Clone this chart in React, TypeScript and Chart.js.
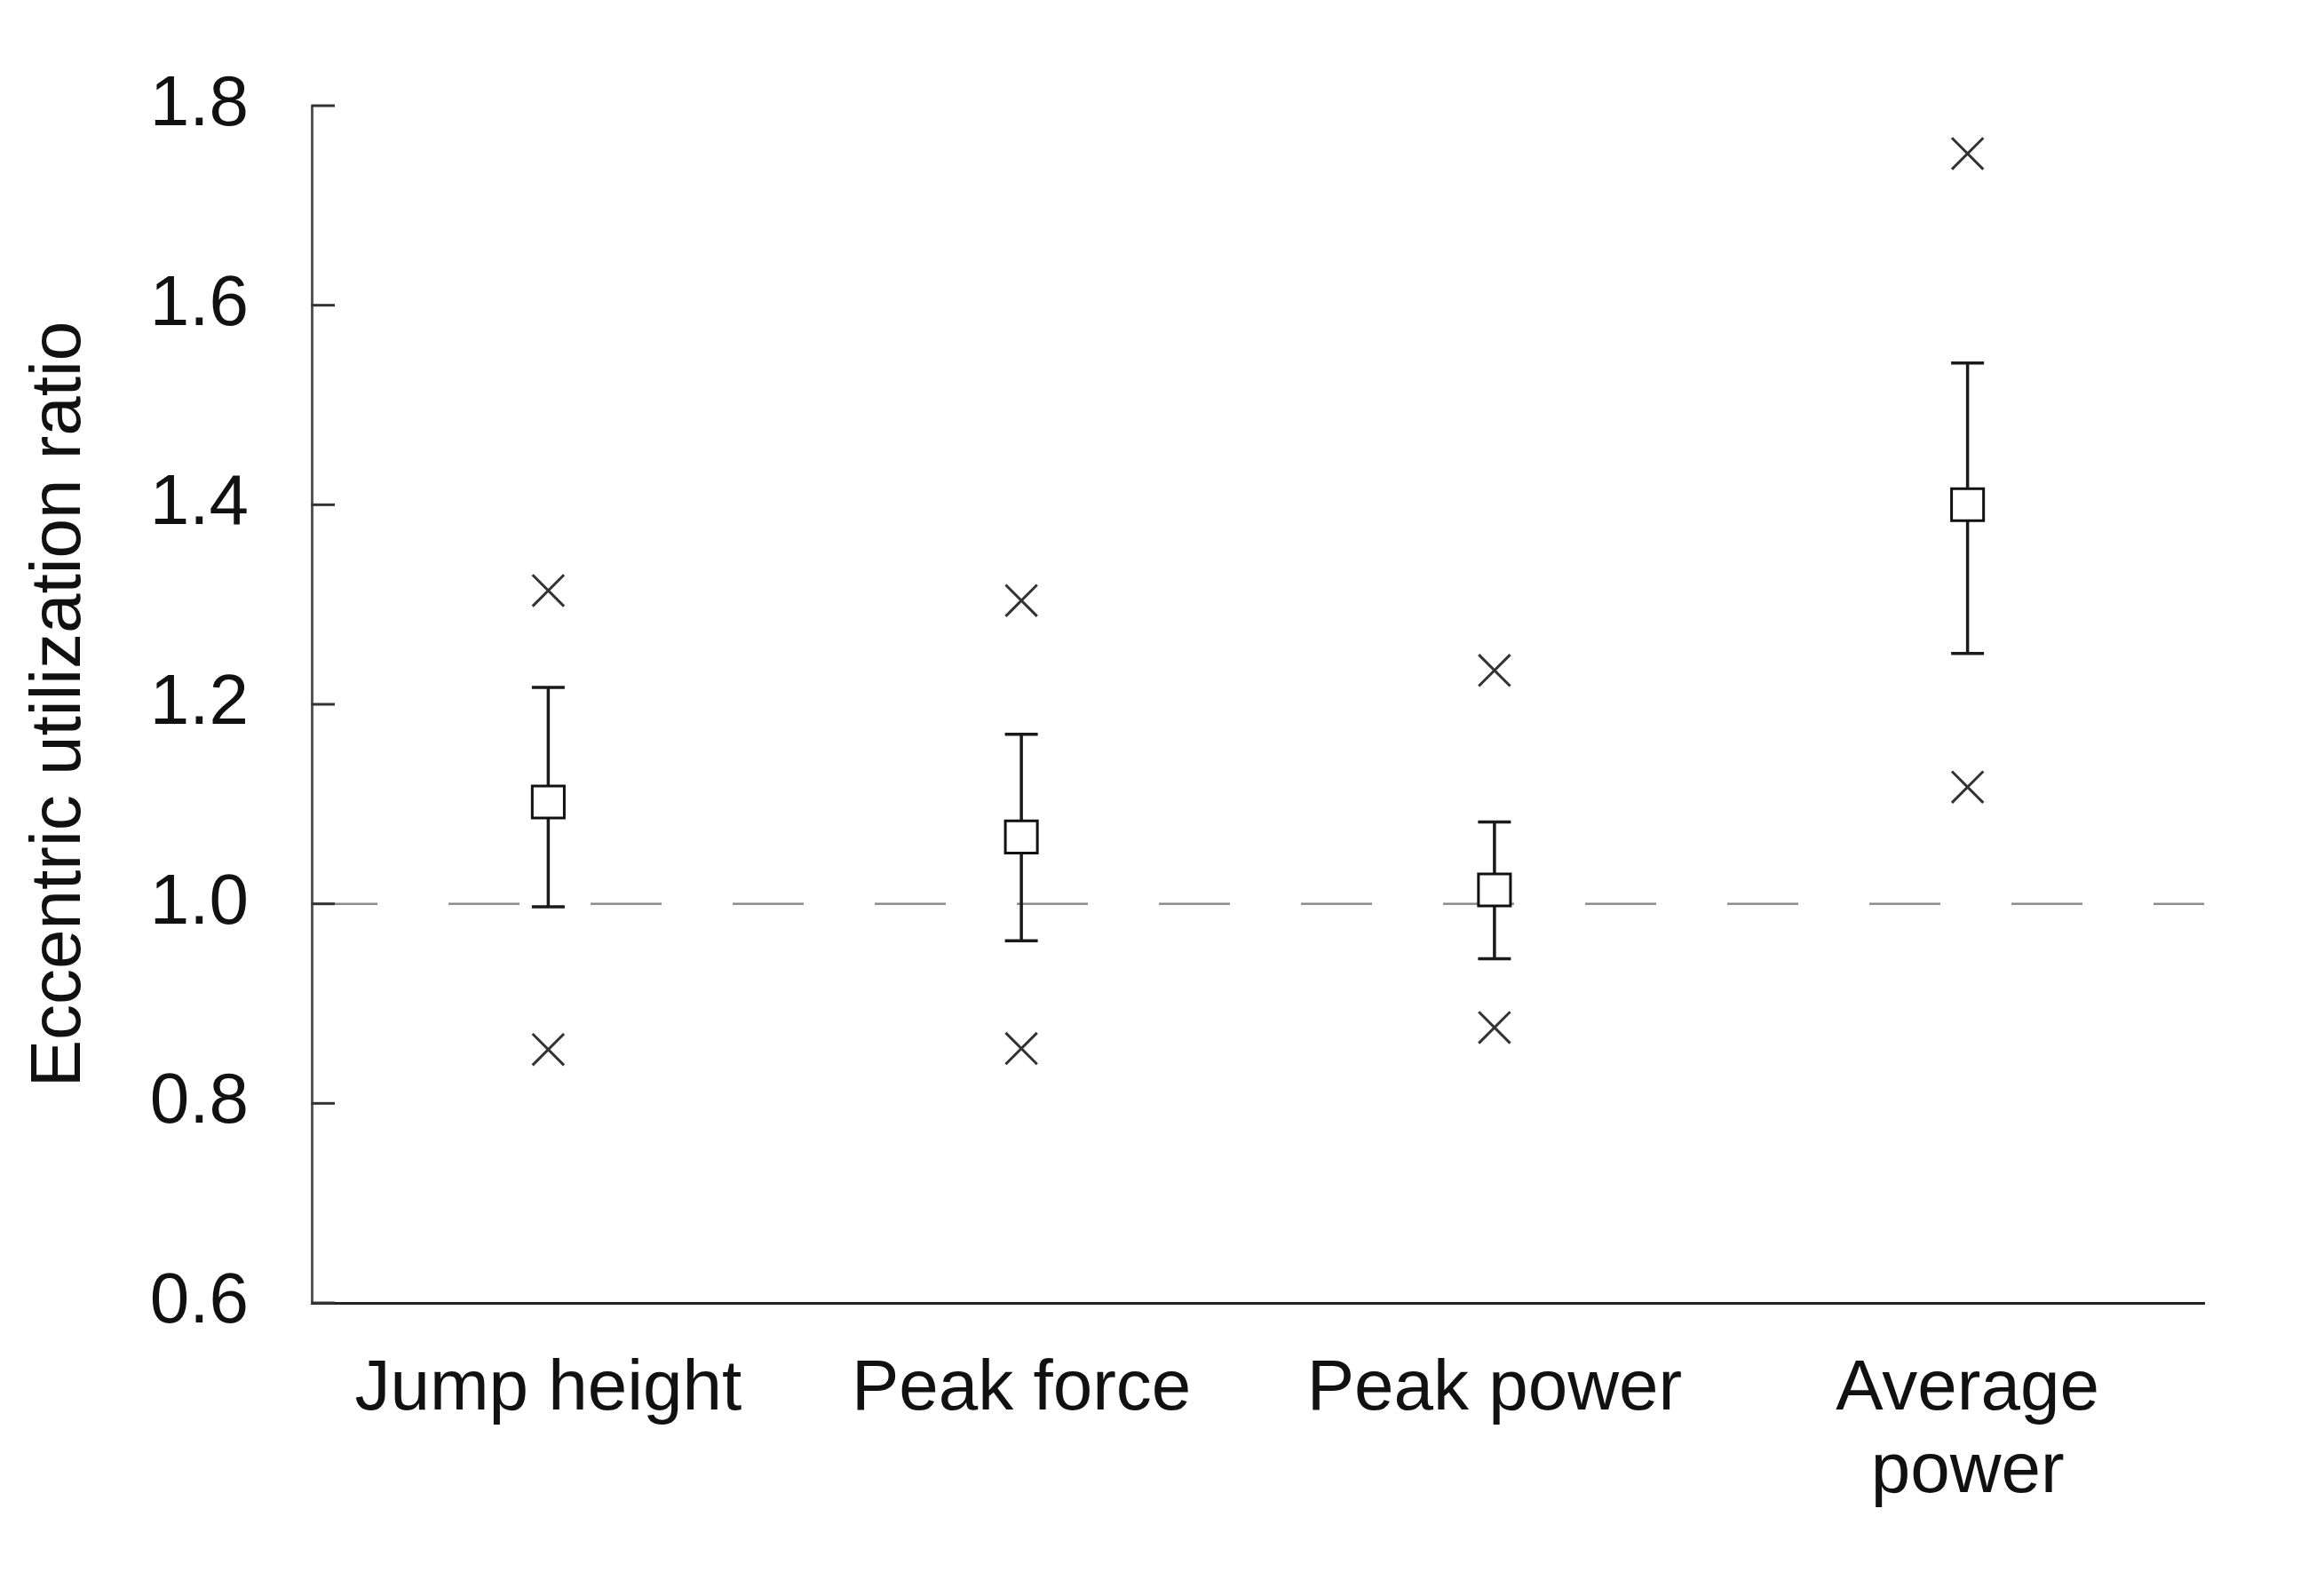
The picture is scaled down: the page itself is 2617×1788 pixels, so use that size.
import { useEffect, useRef } from "react"
import { Chart, registerables } from "chart.js"

Chart.register(...registerables)

// Data
const categories = ["Jump height", "Peak force", "Peak power", ["Average", "power"]]
const meanValues = [1.102, 1.067, 1.014, 1.4]
const upperValues = [1.217, 1.17, 1.082, 1.542]
const lowerValues = [0.997, 0.963, 0.945, 1.251]
const maxValues = [1.314, 1.304, 1.234, 1.752]
const minValues = [0.854, 0.855, 0.876, 1.117]
const yTicks = [0.6, 0.8, 1.0, 1.2, 1.4, 1.6, 1.8]
const referenceValue = 1.0

const FONT = "'Liberation Sans', Arial, sans-serif"

// error bars, reference line and inward y ticks
const extrasPlugin = {
  id: "extras",
  beforeDatasetsDraw(chart: any) {
    const { ctx, chartArea } = chart
    const x = chart.scales.x
    const y = chart.scales.y

    // dashed line at 1.0
    const ry = y.getPixelForValue(referenceValue)
    ctx.save()
    ctx.strokeStyle = "#8c8c8c"
    ctx.lineWidth = 2.5
    ctx.setLineDash([80, 80])
    ctx.lineDashOffset = 6
    ctx.beginPath()
    ctx.moveTo(chartArea.left, ry)
    ctx.lineTo(chartArea.right, ry)
    ctx.stroke()
    ctx.restore()

    // error bars
    ctx.save()
    ctx.strokeStyle = "#1a1a1a"
    ctx.lineWidth = 3.5
    const cap = 18.5
    meanValues.forEach((_, i) => {
      const px = x.getPixelForValue(i)
      const top = y.getPixelForValue(upperValues[i])
      const bot = y.getPixelForValue(lowerValues[i])
      ctx.beginPath()
      ctx.moveTo(px, top)
      ctx.lineTo(px, bot)
      ctx.moveTo(px - cap, top)
      ctx.lineTo(px + cap, top)
      ctx.moveTo(px - cap, bot)
      ctx.lineTo(px + cap, bot)
      ctx.stroke()
    })
    ctx.restore()
  },
  afterDraw(chart: any) {
    const { ctx, chartArea } = chart
    const y = chart.scales.y
    ctx.save()
    ctx.strokeStyle = "#333"
    ctx.lineWidth = 3
    yTicks.forEach((v) => {
      const py = y.getPixelForValue(v)
      ctx.beginPath()
      ctx.moveTo(chartArea.left, py)
      ctx.lineTo(chartArea.left + 26, py)
      ctx.stroke()
    })
    ctx.restore()
  },
}

export default function App() {
  const chartRef = useRef<HTMLCanvasElement>(null)
  const chartInstance = useRef<Chart | null>(null)

  useEffect(() => {
    document.body.style.margin = "0"
    if (!chartRef.current) return
    if (chartInstance.current) chartInstance.current.destroy()

    const ctx = chartRef.current.getContext("2d")
    if (!ctx) return

    const crossStyle = {
      showLine: false,
      pointStyle: "crossRot",
      pointRadius: 25,
      pointBorderColor: "#333",
      pointBorderWidth: 3,
      borderColor: "#333",
    }

    chartInstance.current = new Chart(ctx, {
      type: "line",
      data: {
        labels: categories,
        datasets: [
          {
            label: "Mean",
            data: meanValues,
            showLine: false,
            pointStyle: "rect",
            pointRadius: 25.5,
            pointBackgroundColor: "#fff",
            pointBorderColor: "#111",
            pointBorderWidth: 3,
            borderColor: "#111",
            order: 0,
          },
          { label: "Max", data: maxValues, ...crossStyle, order: 1 },
          { label: "Min", data: minValues, ...crossStyle, order: 1 },
        ] as any,
      },
      options: {
        animation: false,
        responsive: true,
        maintainAspectRatio: false,
        layout: { padding: { top: 118, right: 135, left: 0, bottom: 0 } },
        plugins: {
          legend: { display: false },
          tooltip: { enabled: false },
        },
        scales: {
          x: {
            type: "category",
            offset: true,
            grid: { display: false, drawTicks: false },
            border: { display: true, color: "#222", width: 3 },
            ticks: {
              color: "#111",
              padding: 52,
              maxRotation: 0,
              autoSkip: false,
              font: { family: FONT, size: 80, lineHeight: 1.16 },
            },
            afterFit: (scale: any) => {
              scale.height = 321
            },
          },
          y: {
            type: "linear",
            min: 0.6,
            max: 1.8,
            grid: { display: false, drawTicks: false },
            border: { display: true, color: "#555", width: 3 },
            afterBuildTicks: (scale: any) => {
              scale.ticks = yTicks.map((v) => ({ value: v }))
            },
            ticks: {
              color: "#111",
              padding: 71,
              font: { family: FONT, size: 80 },
              callback: (value: any) => Number(value).toFixed(1),
            },
            title: {
              display: true,
              text: "Eccentric utilization ratio",
              color: "#111",
              padding: { top: 20, bottom: 0 },
              font: { family: FONT, size: 80, lineHeight: 1.2 },
            },
            afterFit: (scale: any) => {
              scale.width = 351
            },
          },
        },
      },
      plugins: [extrasPlugin],
    })

    return () => {
      if (chartInstance.current) {
        chartInstance.current.destroy()
        chartInstance.current = null
      }
    }
  }, [])

  return (
    <div style={{ width: "2617px", height: "1788px", position: "relative", background: "#fff" }}>
      <canvas ref={chartRef} />
    </div>
  )
}
